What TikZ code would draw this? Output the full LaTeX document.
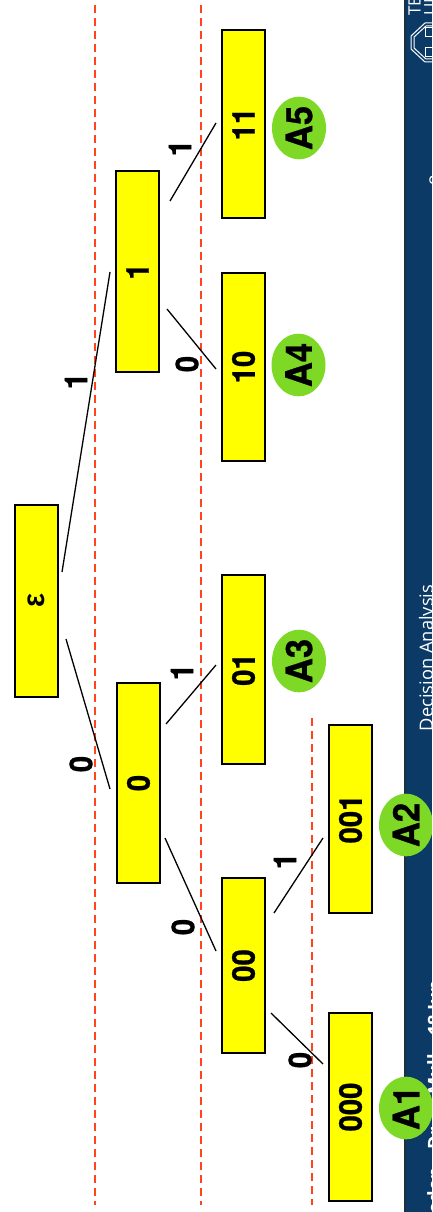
\documentclass[tikz,border=0pt]{standalone}
\usepackage{fontspec}
\setmainfont{TeX Gyre Heros}
\newfontfamily\greekfont{Liberation Sans}
\newfontfamily\footfont{Open Sans}
\newfontfamily\heavyfont[FakeBold=0.8]{TeX Gyre Heros Bold}
\definecolor{panelblue}{RGB}{11,58,102}
\definecolor{panelline}{RGB}{30,47,64}
\definecolor{limegreen}{RGB}{126,217,38}
\definecolor{dashred}{RGB}{255,69,32}
\definecolor{boxyellow}{RGB}{255,255,0}
\newcommand{\lbl}[1]{\rotatebox{90}{\scalebox{.93}[1]{\heavyfont\fontsize{31.5}{31.5}\selectfont #1}}}
\newcommand{\albl}[1]{\rotatebox{90}{\scalebox{.95}[1]{\heavyfont\fontsize{36.5}{36.5}\selectfont #1}}}
\newcommand{\foot}[1]{\rotatebox{90}{\footfont #1}}
\usetikzlibrary{shapes.geometric}
\tikzset{
 x=1pt,y=-1pt,
 codebox/.style={draw=black,line width=1.4pt,fill=boxyellow,minimum width=43pt,inner sep=0pt},
 answer/.style={ellipse,fill=limegreen,minimum width=54pt,minimum height=62pt,inner sep=0pt},
 edgelabel/.style={inner sep=0pt},
 link/.style={line width=1.3pt,black},
 level/.style={line width=2pt,dashred,dash pattern=on 8pt off 5pt},
 logoline/.style={white,line width=1pt},
 foottext/.style={white,inner sep=0pt,font=\fontsize{18.3}{18.3}\selectfont}
}
\begin{document}
\begin{tikzpicture}
\useasboundingbox (0,0) rectangle (432,1212);
\clip (0,0) rectangle (432,1212);
\fill[white] (0,0) rectangle (432,1212);
% footer panel
\fill[panelblue] (405,0) rectangle (432,1212);
\draw[panelline,line width=1.5pt] (405,0) -- (405,1212);
\node[foottext,anchor=center] (title) at (428,658) {\foot{Decision Analysis}};
\node[foottext,anchor=center] (page) at (436,180) {\foot{8}};
\node[foottext,anchor=south west,font=\fontsize{18.3}{18.3}\selectfont\bfseries] (authors) at (427,1226) {\foot{Boden\quad Dr. B. Mull\quad 18 Jun}};
\node[foottext,anchor=south west,font=\fontsize{17}{17}\selectfont] (uni1) at (408,16) {\foot{TECHNISCHE}};
\node[foottext,anchor=south west,font=\fontsize{17}{17}\selectfont] (uni2) at (421,16) {\foot{UNIVERSIT\"AT}};
% logo
\draw[logoline] (440,23) -- (425,23) -- (411,36) -- (411,49) -- (425,62) -- (440,62);
\draw[logoline] (440,26) -- (426,26) -- (414,37) -- (414,48) -- (426,59) -- (440,59);
\draw[logoline] (440,28) -- (425,28) -- (425,37) -- (440,37);
\draw[logoline] (440,48) -- (425,48) -- (425,57) -- (440,57);
% level lines
\draw[level] (94.5,5) -- (94.5,1205);
\draw[level] (201,5) -- (201,1205);
\draw[level] (312,718) -- (312,1205);
% boxes
\node[codebox,minimum height=192pt] (eps) at (36.5,601) {\rotatebox{90}{\scalebox{.95}[1]{\greekfont\fontsize{31}{31}\selectfont\bfseries ε}}};
\node[codebox,minimum height=200pt] (n0) at (138.5,783) {\lbl{0}};
\node[codebox,minimum height=201pt] (n1) at (137.5,271.5) {\lbl{1}};
\node[codebox,minimum height=175pt] (n00) at (243.5,965.5) {\lbl{00}};
\node[codebox,minimum height=189pt] (n01) at (243.5,669.5) {\lbl{01}};
\node[codebox,minimum height=188pt] (n10) at (243.5,367) {\lbl{10}};
\node[codebox,minimum height=188pt] (n11) at (243.5,124) {\lbl{11}};
\node[codebox,minimum height=188pt] (n000) at (350.5,1107) {\lbl{000}};
\node[codebox,minimum height=188pt] (n001) at (350.5,819) {\lbl{001}};
% answer discs
\node[answer] (a1) at (406,1108) {\albl{A1}};
\node[answer] (a2) at (406,825) {\albl{A2}};
\node[answer] (a3) at (299,661) {\albl{A3}};
\node[answer] (a4) at (298.5,365) {\albl{A4}};
\node[answer] (a5) at (299,128) {\albl{A5}};
% connectors
\draw[link] ([shift={(29.5,38)}]eps.center) -- ([shift={(-28.5,6)}]n0.center);
\draw[link] ([shift={(25.5,-29)}]eps.center) -- ([shift={(-27.5,.5)}]n1.center);
\draw[link] ([shift={(26.5,55)}]n0.center) -- ([shift={(-27.5,-14.5)}]n00.center);
\draw[link] ([shift={(27.5,-59)}]n0.center) -- ([shift={(-27.5,-4.5)}]n01.center);
\draw[link] ([shift={(27.5,47.5)}]n00.center) -- ([shift={(-27.5,-43)}]n000.center);
\draw[link] ([shift={(30.5,-52.5)}]n00.center) -- ([shift={(-27.5,19)}]n001.center);
\draw[link] ([shift={(29.5,37.5)}]n1.center) -- ([shift={(-27.5,2)}]n10.center);
\draw[link] ([shift={(32.5,-70.5)}]n1.center) -- ([shift={(-27.5,-1)}]n11.center);
% edge labels
\node[edgelabel] (l0) at (81,764) {\lbl{0}};
\node[edgelabel] (l1) at (76,381) {\lbl{1}};
\node[edgelabel] (l00) at (183,927) {\lbl{0}};
\node[edgelabel] (l01) at (182,672) {\lbl{1}};
\node[edgelabel] (l000) at (300,1060) {\lbl{0}};
\node[edgelabel] (l001) at (285,861) {\lbl{1}};
\node[edgelabel] (l10) at (187,364) {\lbl{0}};
\node[edgelabel] (l11) at (180,148) {\lbl{1}};
\end{tikzpicture}
\end{document}
